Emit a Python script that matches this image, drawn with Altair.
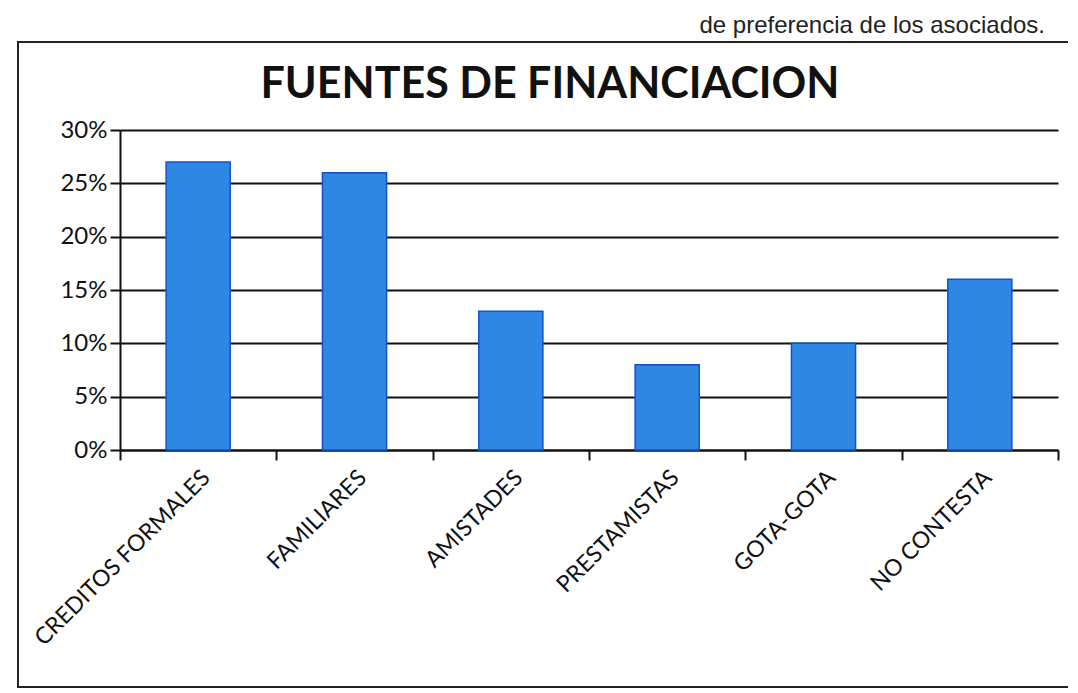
import altair as alt
import pandas as pd

categories = ["CREDITOS FORMALES", "FAMILIARES", "AMISTADES", "PRESTAMISTAS", "GOTA-GOTA", "NO CONTESTA"]
values = [0.27, 0.26, 0.13, 0.08, 0.10, 0.16]
y_ticks = [0, 0.05, 0.10, 0.15, 0.20, 0.25, 0.30]
title_text = "FUENTES DE FINANCIACION"
page_text = "de preferencia de los asociados."

df = pd.DataFrame({"fuente": categories, "valor": values})

FONT = "Lato"

bars = alt.Chart(df).mark_bar(
    width=alt.RelativeBandSize(0.41),
    color="#2f87e4",
    stroke="#1552c8",
    strokeWidth=1.5,
).encode(
    x=alt.X("fuente:N", sort=categories, title=None,
            scale=alt.Scale(paddingInner=0, paddingOuter=0),
            axis=alt.Axis(labelAngle=-45, labelFontSize=23, labelFont=FONT,
                          labelColor="#111", labelLimit=500, tickBand="extent",
                          tickSize=10, tickColor="#111", tickWidth=2,
                          domainColor="#111", domainWidth=2, labelPadding=6,
                          grid=False)),
    y=alt.Y("valor:Q", title=None,
            scale=alt.Scale(domain=[0, 0.30], nice=False),
            axis=alt.Axis(values=y_ticks, format=".0%", labelFontSize=24,
                          labelFont=FONT, labelColor="#111", tickSize=10,
                          tickColor="#111", tickWidth=2, domainColor="#111",
                          domainWidth=2, gridColor="#111", gridWidth=2,
                          gridOpacity=1, labelPadding=3)),
)

one = alt.Data(values=[{"a": 1}])

frame = alt.Chart(one).mark_rect(
    filled=False, stroke="#222", strokeWidth=2, clip=False
).encode(
    x=alt.value(-102), x2=alt.value(975),
    y=alt.value(-88), y2=alt.value(557),
)

title = alt.Chart(one).mark_text(
    text=title_text, font=FONT, fontSize=43, fontWeight="bold",
    align="center", baseline="alphabetic", color="#111", clip=False
).encode(x=alt.value(430), y=alt.value(-32))

top_text = alt.Chart(one).mark_text(
    text=page_text, font="Liberation Sans",
    fontSize=24, align="right", baseline="alphabetic", color="#222", clip=False
).encode(x=alt.value(925), y=alt.value(-97))

chart = alt.layer(frame, bars, title, top_text).properties(
    width=938,
    height=320,
    autosize=alt.AutoSizeParams(type="none"),
    padding={"left": 112, "top": 122, "right": 10, "bottom": 240},
).configure_view(stroke=None)

chart.save("out.html", embed_options={"renderer": "svg", "actions": False})
